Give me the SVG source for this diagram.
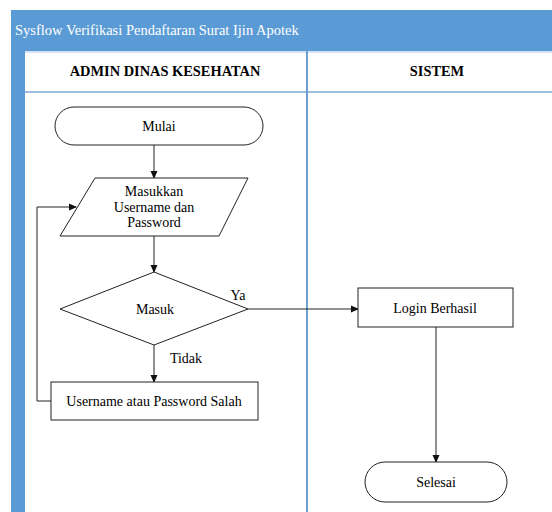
<svg xmlns="http://www.w3.org/2000/svg" width="552" height="512" viewBox="0 0 552 512" font-family="'Liberation Serif', 'Times New Roman', serif">
<style>
text{font-family:"Liberation Serif","Times New Roman",serif;fill:#000;font-size:14px}
.t{text-anchor:middle}
.h{font-weight:bold;text-anchor:middle;font-size:14.4px}
.s{fill:#fff;stroke:#222;stroke-width:1}
.c{fill:none;stroke:#222;stroke-width:1}
</style>
<defs>
<marker id="a" markerWidth="8" markerHeight="8" refX="7" refY="4" orient="auto" markerUnits="userSpaceOnUse">
<path d="M0,0.5 L8,4 L0,7.5 Z" fill="#111"/>
</marker>
</defs>
<rect width="552" height="512" fill="#fff"/>
<g id="pool">
<rect x="11" y="10" width="541" height="502" fill="#5b9bd5"/>
<rect x="25" y="51" width="527" height="461" fill="#fff"/>
<line x1="25" y1="52" x2="552" y2="52" stroke="#d5e3f2" stroke-width="2"/>
<line x1="25" y1="92" x2="552" y2="92" stroke="#7ea9d6" stroke-width="1.5"/>
<line x1="307" y1="51" x2="307" y2="512" stroke="#6f9fd0" stroke-width="2"/>
<text x="15" y="35" style="fill:#fff;font-size:14.5px">Sysflow Verifikasi Pendaftaran Surat Ijin Apotek</text>
<text x="165" y="76" class="h">ADMIN DINAS KESEHATAN</text>
<text x="437" y="76" class="h">SISTEM</text>
</g>
<g id="connectors">
<line class="c" x1="154" y1="145" x2="154" y2="178" marker-end="url(#a)"/>
<line class="c" x1="154" y1="236" x2="154" y2="272" marker-end="url(#a)"/>
<line class="c" x1="154" y1="345" x2="154" y2="382" marker-end="url(#a)"/>
<polyline class="c" points="51,401 37,401 37,207 76,207" marker-end="url(#a)"/>
<line class="c" x1="248" y1="309" x2="358" y2="309" marker-end="url(#a)"/>
<line class="c" x1="436" y1="327" x2="436" y2="462" stroke="#444" marker-end="url(#a)"/>
<text x="238" y="300" class="t">Ya</text>
<text x="186" y="363" class="t">Tidak</text>
</g>
<g id="mulai">
<rect class="s" x="55" y="107" width="208" height="38" rx="19"/>
<text x="159" y="131" class="t">Mulai</text>
</g>
<g id="input">
<polygon class="s" points="95,178 248,178 219,236 60,236"/>
<text x="154" y="196" class="t">Masukkan</text>
<text x="154" y="212" class="t">Username dan</text>
<text x="154" y="227" class="t">Password</text>
</g>
<g id="masuk">
<polygon class="s" points="154,272 248,309 154,345 60,309"/>
<text x="155" y="314" class="t">Masuk</text>
</g>
<g id="salah">
<rect class="s" x="51" y="382" width="207" height="38"/>
<text x="154" y="406" class="t">Username atau Password Salah</text>
</g>
<g id="login">
<rect class="s" x="358" y="288" width="155" height="39"/>
<text x="435" y="313" class="t">Login Berhasil</text>
</g>
<g id="selesai">
<rect class="s" x="365" y="462" width="142" height="40" rx="20"/>
<text x="436" y="487" class="t">Selesai</text>
</g>
</svg>
